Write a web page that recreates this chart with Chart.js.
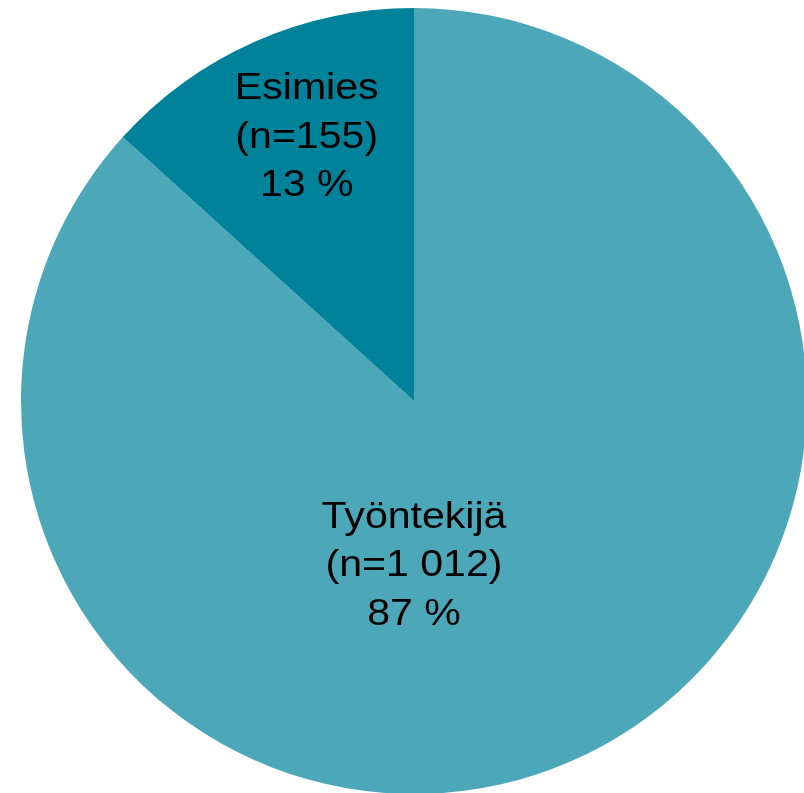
<!DOCTYPE html>
<html>
<head>
<meta charset="utf-8">
<script src="https://cdn.jsdelivr.net/npm/chart.js@4"></script>
<style>
    html, body { margin: 0; padding: 0; background: #fff; overflow: hidden; width: 804px; height: 793px; }
    #wrap { position: absolute; left: 21px; top: 8px; width: 786px; height: 786px; }
</style>
</head>
<body>
<div id="wrap"><canvas id="myChart"></canvas></div>
<script>
const categories = ["Työntekijä", "Esimies"];
const counts = [1012, 155];
const countLabels = ["1 012", "155"];
const percents = ["87 %", "13 %"];
const colors = ["#4ca8b9", "#00829a"];

// label position per slice, as fraction of radius from the pie centre
const labelPos = [{ fx: 0.0, fy: 0.42 }, { fx: -0.273, fy: -0.67 }];

// the original text is a little wider than Arial, so stretch it a bit
const sliceLabels = {
    id: 'sliceLabels',
    afterDatasetsDraw(chart) {
        const ctx = chart.ctx;
        const meta = chart.getDatasetMeta(0);
        const stretch = 1.11;
        meta.data.forEach((arc, i) => {
            const r = arc.outerRadius;
            const x = arc.x + labelPos[i].fx * r;
            const y = arc.y + labelPos[i].fy * r;
            const lines = [categories[i], '(n=' + countLabels[i] + ')', percents[i]];
            ctx.save();
            ctx.translate(x, y);
            ctx.scale(stretch, 1);
            ctx.font = '37px "Liberation Sans", Arial, sans-serif';
            ctx.fillStyle = '#000';
            ctx.textAlign = 'center';
            ctx.textBaseline = 'middle';
            lines.forEach((t, j) => {
                ctx.fillText(t, 0, (j - 1) * 48.5);
            });
            ctx.restore();
        });
    }
};

const ctx = document.getElementById('myChart').getContext('2d');
const myChart = new Chart(ctx, {
    type: 'pie',
    data: {
        labels: categories,
        datasets: [{
            data: counts,
            backgroundColor: colors,
            borderWidth: 0
        }]
    },
    options: {
        responsive: true,
        maintainAspectRatio: false,
        animation: false,
        layout: { padding: 0 },
        plugins: {
            legend: { display: false },
            tooltip: { enabled: false }
        }
    },
    plugins: [sliceLabels]
});
</script>
</body>
</html>
